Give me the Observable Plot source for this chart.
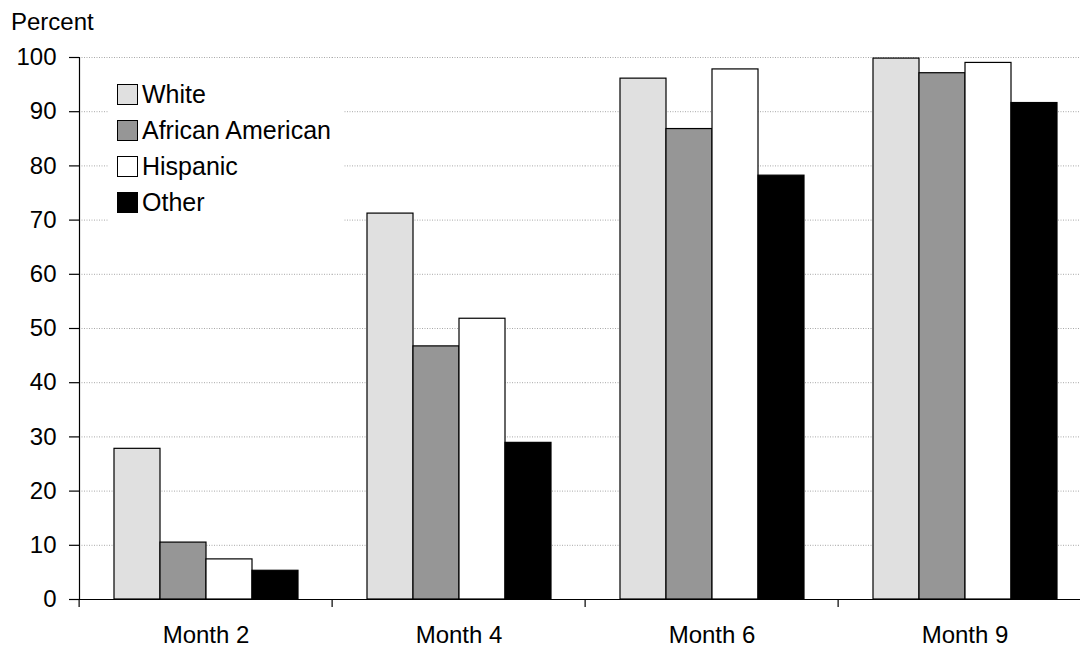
<!DOCTYPE html>
<html>
<head>
<meta charset="utf-8">
<script src="https://cdn.jsdelivr.net/npm/d3@7"></script>
<script src="https://cdn.jsdelivr.net/npm/@observablehq/plot@0.6"></script>
<style>
  html, body { margin: 0; padding: 0; background: #fff; }
  #wrap { position: relative; width: 1080px; height: 647px; overflow: hidden; font-family: "Liberation Sans", Arial, sans-serif; color: #000; }
  #ytitle { position: absolute; left: 11px; top: 10px; font-size: 24px; line-height: 24px; }
  #legend { position: absolute; left: 108px; top: 72px; width: 236px; height: 154px; background: #fff; }
  .row { position: absolute; left: 9px; height: 24px; display: flex; align-items: center; font-size: 25px; line-height: 24px; }
  .sw { width: 19px; height: 19px; border: 1px solid #000; margin-right: 4px; }
  #chart { position: absolute; left: 0; top: 0; }
  #chart svg { max-width: none !important; }
</style>
</head>
<body>
<div id="wrap">
  <div id="chart"></div>
  <div id="ytitle">Percent</div>
  <div id="legend"></div>
</div>
<script>
const months = ["Month 2", "Month 4", "Month 6", "Month 9"];
const races = ["White", "African American", "Hispanic", "Other"];
const white = [27.8, 71.2, 96.1, 99.8];
const africanAmerican = [10.5, 46.7, 86.8, 97.1];
const hispanic = [7.4, 51.8, 97.8, 99.0];
const other = [5.3, 28.9, 78.2, 91.6];
const raceColors = ["#e0e0e0", "#969696", "#ffffff", "#000000"];
const yTicks = [0, 10, 20, 30, 40, 50, 60, 70, 80, 90, 100];

const series = [white, africanAmerican, hispanic, other];
const rows = [];
months.forEach((m, i) => races.forEach((r, j) => rows.push({month: m, race: r, value: series[j][i]})));

const W = 1092, ML = 77;
const facetStep = (W - ML) / months.length;

const chart = Plot.plot({
  width: W,
  height: 647,
  marginTop: 57,
  marginBottom: 48,
  marginLeft: ML,
  marginRight: 0,
  style: {fontFamily: '"Liberation Sans", Arial, sans-serif', fontSize: "24px", color: "#000", background: "transparent", maxWidth: "none"},
  fx: {domain: months, padding: 0, axis: null},
  x: {domain: races, paddingInner: 0, paddingOuter: 0.74, axis: null},
  y: {domain: [0, 100], axis: null},
  color: {domain: races, range: raceColors},
  marks: [
    Plot.gridY(yTicks.filter(t => t > 0), {stroke: "#a8a8a8", strokeOpacity: 1, strokeDasharray: "1,1.5", strokeWidth: 1}),
    Plot.barY(rows, {fx: "month", x: "race", y: "value", fill: "race", stroke: "#000", strokeWidth: 1.2, inset: 0}),
    Plot.ruleY([0], {stroke: "#000", strokeWidth: 1.2}),
    Plot.frame({anchor: "left", facetAnchor: "left", stroke: "#000", strokeWidth: 1.2}),
    Plot.axisY(yTicks, {tickSize: 10, tickPadding: 13, fontSize: 24, label: null, stroke: "#000", strokeWidth: 1.2}),
    Plot.axisFx({anchor: "bottom", tickSize: 0, tickPadding: 26, fontSize: 24, label: null}),
    Plot.axisFx({anchor: "bottom", tickSize: 8, tickFormat: () => "", label: null, dx: -facetStep / 2, stroke: "#000", strokeWidth: 1.2})
  ]
});
document.getElementById("chart").appendChild(chart);

const legend = document.getElementById("legend");
races.forEach((r, j) => {
  const row = document.createElement("div");
  row.className = "row";
  row.style.top = (11 + j * 36 - 1) + "px";
  const sw = document.createElement("div");
  sw.className = "sw";
  sw.style.background = raceColors[j];
  const t = document.createElement("span");
  t.textContent = r;
  row.appendChild(sw);
  row.appendChild(t);
  legend.appendChild(row);
});
</script>
</body>
</html>
